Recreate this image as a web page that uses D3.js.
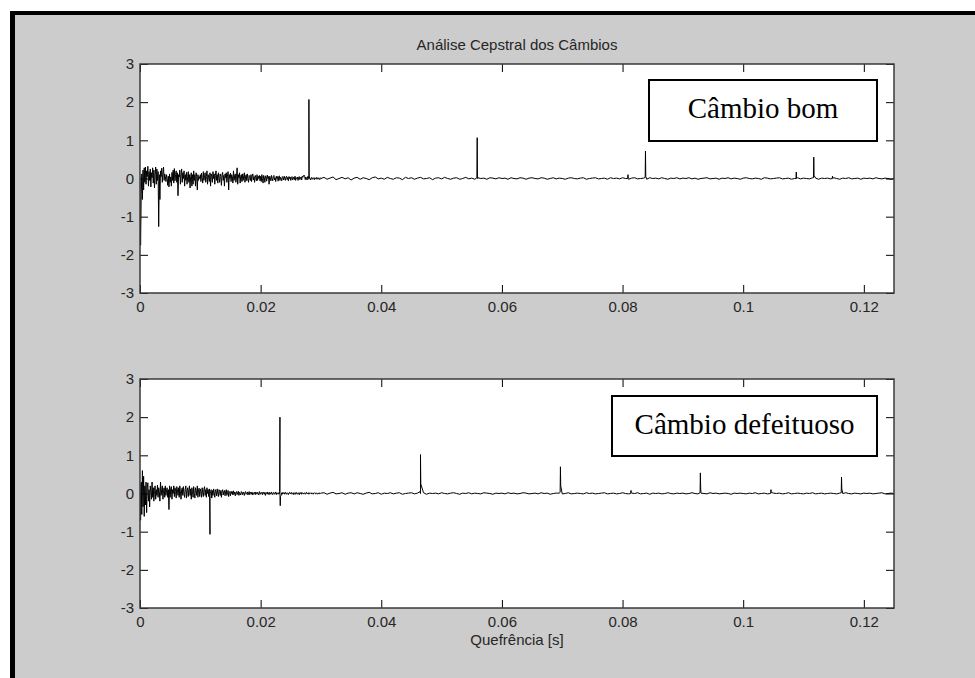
<!DOCTYPE html>
<html>
<head>
<meta charset="utf-8">
<script src="https://cdn.jsdelivr.net/npm/d3@7"></script>
<style>
  body { margin: 0; background: #fff; }
  svg { display: block; }
  .tick text { font-family: "Liberation Sans", Arial, sans-serif; font-size: 15px; fill: #262626; }
  .tick line { stroke: #000; }
</style>
</head>
<body>
<div id="chart"></div>
<script>
// --------------------------------------
//  Data
// --------------------------------------

const title = "Análise Cepstral dos Câmbios";
const xLabel = "Quefrência [s]";
const xTicks = [0, 0.02, 0.04, 0.06, 0.08, 0.1, 0.12];
const yTicks = [-3, -2, -1, 0, 1, 2, 3];
const legendTop = "Câmbio bom";
const legendBottom = "Câmbio defeituoso";

// dense part: one sample every 0.0001 s from 0 to 0.03
const headStep = 0.0001;
// flat part: one sample every 0.0005 s from 0.0305 to 0.125
const tailStart = 0.0305;
const tailStep = 0.0005;

const goodHead = [
  0.05,-1.75,-0.4,0.12,-0.55,0.22,-0.3,0.28,-0.1,0.3,
  -0.15,0.2,0.05,0.32,-0.2,0.18,-0.05,0.25,-0.22,0.15,
  0.02,0.28,-0.12,0.22,-0.25,0.1,0.3,-0.15,0.25,-0.05,
  0.18,-1.26,0.1,-0.55,0.2,0.05,0.27,-0.1,0.15,0.3,
  -0.05,0.12,0.05,-0.08,0.1,0.0,-0.18,0.06,-0.22,0.12,
  -0.1,0.04,-0.2,0.16,-0.05,0.22,-0.12,0.26,-0.06,0.1,
  0.2,-0.1,0.15,-0.45,0.1,0.04,0.22,-0.15,0.1,0.25,
  -0.1,0.15,0.0,0.2,-0.2,0.1,-0.05,0.16,-0.15,0.05,
  0.18,-0.1,0.1,-0.25,0.05,0.15,-0.2,0.1,-0.15,0.2,
  -0.05,0.1,-0.2,0.15,0.05,-0.3,0.1,-0.05,0.05,0.0,
  0.1,-0.08,0.14,0.02,-0.12,0.18,-0.05,0.08,0.15,-0.1,
  0.05,0.2,-0.15,0.1,0.02,-0.08,0.15,-0.2,0.12,0.05,
  -0.1,0.18,0.0,0.12,-0.15,0.08,0.2,-0.05,0.1,-0.12,
  0.15,0.02,-0.1,0.12,0.05,-0.18,0.1,0.16,-0.05,0.08,
  -0.2,0.12,0.02,0.15,-0.1,0.06,0.18,-0.3,0.1,0.0,
  0.14,-0.08,0.1,0.05,-0.12,0.2,-0.05,0.08,0.12,-0.1,
  0.05,0.28,-0.15,0.1,0.02,0.15,-0.12,0.06,0.1,-0.08,
  0.12,-0.05,0.08,0.15,-0.1,0.04,0.1,-0.06,0.12,0.0,
  -0.1,0.08,0.05,-0.05,0.1,-0.08,0.06,0.12,-0.04,0.05,
  -0.1,0.08,0.02,-0.06,0.1,-0.05,0.06,0.0,0.08,-0.06,
  0.06,-0.08,0.1,0.0,-0.12,0.08,0.03,-0.1,0.07,0.04,
  -0.07,0.09,0.0,0.05,-0.15,0.06,0.02,-0.06,0.08,0.0,
  -0.06,0.05,0.08,-0.04,0.02,-0.08,0.06,0.0,0.05,-0.07,
  0.04,0.07,-0.05,0.03,0.0,-0.06,0.05,0.03,-0.04,0.06,
  0.0,-0.05,0.04,0.06,-0.03,0.03,-0.06,0.05,0.0,0.04,
  -0.05,0.03,0.05,-0.04,0.0,0.04,-0.03,0.06,-0.05,0.02,
  0.0,0.04,-0.05,0.03,0.05,-0.03,0.0,0.04,-0.04,0.06,
  0.03,0.07,0.09,0.05,-0.03,0.04,0.0,-0.04,0.05,0.02,
  -0.02,0.03,0.0,-0.04,0.02,0.03,-0.02,0.0,0.02,-0.03,
  0.02,0.0,-0.02,0.03,0.01,-0.02,0.02,0.0,-0.03,0.02,0.0
];

const goodTail = [
  0.03,-0.02,0.01,0.04,-0.03,0.0,0.03,-0.01,0.02,-0.04,
  0.01,0.03,-0.02,0.02,0.0,-0.03,0.02,0.04,-0.01,0.01,
  -0.02,0.03,0.0,-0.02,0.02,0.01,-0.03,0.03,0.0,0.02,
  -0.02,0.01,0.03,-0.01,0.0,0.02,-0.03,0.01,0.02,-0.01,
  0.03,0.0,-0.02,0.01,0.02,-0.02,0.0,0.03,-0.01,0.01,
  -0.02,0.02,0.0,0.01,-0.02,0.02,0.01,-0.01,0.02,0.0,
  0.01,-0.02,0.02,0.0,-0.01,0.02,0.01,-0.02,0.01,0.02,
  0.0,-0.01,0.02,0.01,-0.02,0.0,0.02,-0.01,0.01,0.0,
  -0.02,0.01,0.02,0.0,-0.01,0.01,0.02,-0.02,0.0,0.01,
  0.02,-0.01,0.0,0.01,-0.02,0.02,0.0,0.01,-0.01,0.02,
  0.0,-0.02,0.01,0.02,-0.01,0.0,0.01,-0.02,0.02,0.0,
  0.01,-0.01,0.02,0.0,-0.02,0.01,0.0,0.02,-0.01,0.01,
  0.0,0.02,-0.01,0.01,-0.02,0.0,0.01,0.02,-0.01,0.0,
  0.01,-0.02,0.01,0.0,0.02,-0.01,0.01,0.0,-0.02,0.01,
  0.02,0.0,-0.01,0.01,0.0,-0.02,0.02,0.01,-0.01,0.0,
  0.01,0.02,-0.01,0.0,0.01,-0.02,0.0,0.02,-0.01,0.01,
  0.0,-0.01,0.02,0.01,-0.02,0.01,0.0,0.01,-0.01,0.02,
  0.0,-0.02,0.01,0.0,0.02,-0.01,0.0,0.01,-0.02,0.01,
  0.0,0.01,-0.01,0.02,0.0,-0.01,0.01,0.0,-0.02,0.0
];

// rahmonic peaks: quefrency, and [sample before, peak, sample after]
const goodPeakQ = [0.0280, 0.0559, 0.0809, 0.0838, 0.1088, 0.1117, 0.1148];
const goodPeakV = [
  [0.05, 2.07, 0.02], [0.02, 1.07, 0.0], [0.0, 0.1, 0.0], [0.03, 0.72, 0.05],
  [0.0, 0.17, 0.0], [0.02, 0.56, 0.08], [0.0, 0.06, 0.0]
];

const badHead = [
  0.25,-0.7,0.3,-0.55,0.6,-0.35,0.45,-0.6,0.2,-0.3,
  0.3,-0.5,0.15,0.28,-0.2,0.1,-0.35,0.2,0.05,-0.15,
  0.3,-0.1,0.15,-0.2,0.08,0.2,-0.15,0.1,-0.05,0.22,
  -0.1,0.15,0.05,-0.2,0.3,-0.05,0.1,0.2,-0.15,0.08,
  0.15,-0.1,0.2,-0.05,0.1,0.15,-0.1,0.1,-0.42,0.2,
  -0.1,0.12,0.18,-0.15,0.1,0.0,0.2,-0.08,0.15,0.05,
  -0.12,0.18,0.1,-0.05,0.15,-0.1,0.2,0.05,-0.15,0.1,
  0.15,-0.05,0.18,0.0,-0.1,0.12,0.2,-0.12,0.08,0.15,
  -0.08,0.1,0.2,-0.05,0.12,-0.15,0.15,0.05,-0.1,0.18,
  0.0,-0.12,0.15,0.08,-0.05,0.2,-0.1,0.1,0.14,-0.08,
  0.12,0.05,-0.1,0.15,0.02,-0.08,0.12,0.18,-0.05,0.1,
  -0.1,0.15,0.0,0.1,-0.08,0.12,-0.05,0.05,0.1,-0.12,
  0.08,-0.05,0.12,0.02,-0.1,0.1,0.05,-0.06,0.12,0.0,
  -0.08,0.1,0.05,-0.05,0.08,-0.1,0.06,0.1,-0.04,0.05,
  0.08,-0.06,0.04,0.1,-0.05,0.02,0.08,-0.08,0.05,0.03,
  -0.06,0.06,0.0,0.05,-0.04,0.07,-0.02,0.04,-0.06,0.03,
  0.05,-0.03,0.02,0.06,-0.05,0.03,0.0,-0.04,0.05,0.02,
  -0.03,0.04,0.0,-0.05,0.03,0.05,-0.02,0.0,0.04,-0.04,
  0.02,0.05,-0.03,0.01,0.04,-0.02,0.03,-0.04,0.02,0.0,
  0.03,-0.03,0.04,0.01,-0.02,0.03,0.0,-0.04,0.05,0.01,
  -0.02,0.03,0.0,-0.03,0.04,0.01,-0.02,0.03,-0.05,0.02,
  0.0,0.04,-0.02,0.02,-0.03,0.03,0.01,-0.02,0.04,0.0,
  -0.03,0.02,0.03,-0.02,0.0,0.04,-0.03,0.02,0.01,-0.02,
  0.02,0.0,-0.04,-0.08,-0.05,0.02,-0.02,0.03,0.0,0.02,
  -0.02,0.03,0.01,-0.02,0.02,0.0,-0.03,0.02,0.03,-0.01,
  0.01,0.03,-0.02,0.0,0.02,-0.03,0.01,0.02,-0.02,0.03,
  0.0,-0.02,0.02,0.01,-0.03,0.02,0.0,0.03,-0.02,0.01,
  0.02,-0.01,0.0,0.02,-0.02,0.01,0.03,-0.01,0.0,0.02,
  -0.02,0.01,0.02,0.0,-0.01,0.02,0.0,-0.02,0.01,0.02,
  0.0,-0.01,0.02,0.0,-0.02,0.01,0.0,0.02,-0.01,0.0,0.01
];

const badTail = [
  0.02,-0.02,0.01,0.03,-0.01,0.0,0.02,-0.02,0.01,0.02,
  -0.01,0.02,0.0,-0.02,0.01,0.03,-0.01,0.0,0.02,-0.02,
  0.01,0.0,0.02,-0.01,0.01,0.02,-0.02,0.0,0.01,0.02,
  -0.01,0.01,0.0,0.02,-0.02,0.01,0.0,0.01,-0.01,0.02,
  0.0,-0.01,0.01,0.02,0.0,-0.02,0.01,0.0,0.02,-0.01,
  0.01,0.0,-0.01,0.02,0.01,0.0,-0.02,0.01,0.0,0.01,
  -0.01,0.02,0.0,0.01,-0.01,0.0,0.02,0.01,-0.01,0.0,
  0.01,-0.01,0.02,0.0,0.01,-0.02,0.0,0.01,0.01,-0.01,
  0.0,0.02,-0.01,0.0,0.01,0.0,-0.01,0.02,0.0,0.01,
  -0.01,0.0,0.01,0.02,-0.01,0.0,0.01,-0.01,0.0,0.02,
  0.0,-0.01,0.01,0.0,0.02,-0.01,0.0,0.01,-0.02,0.01,
  0.0,0.01,-0.01,0.0,0.02,0.0,-0.01,0.01,0.0,0.01,
  -0.01,0.0,0.02,0.0,-0.01,0.01,0.0,-0.01,0.02,0.0,
  0.01,-0.01,0.0,0.01,0.0,-0.02,0.01,0.0,0.01,0.0,
  -0.01,0.01,0.0,0.02,-0.01,0.0,0.01,-0.01,0.0,0.01,
  0.0,0.01,-0.01,0.0,0.02,-0.01,0.0,0.01,0.0,-0.01,
  0.01,0.0,0.02,-0.01,0.0,0.01,-0.01,0.0,0.01,0.0,
  -0.01,0.01,0.0,0.02,0.0,-0.01,0.01,0.0,-0.01,0.01,
  0.0,0.01,-0.01,0.0,0.01,0.02,-0.01,0.0,0.01,0.0
];

const badPeakQ = [0.0116, 0.0232, 0.0465, 0.0697, 0.0814, 0.0929, 0.1046, 0.1163];
const badPeakV = [
  [0.05, -1.07, 0.0], [0.05, 2.0, -0.32], [0.05, 1.02, 0.25], [0.03, 0.7, 0.2],
  [0.0, 0.08, 0.02], [0.02, 0.54, 0.15], [0.0, 0.1, 0.03], [0.02, 0.43, 0.12]
];

// --------------------------------------
//  Canvas
// --------------------------------------

const width = 975;
const height = 678;
const plot = { left: 140, right: 894 };
const panels = [
  { top: 64, bottom: 293, head: goodHead, tail: goodTail, pq: goodPeakQ, pv: goodPeakV,
    legend: legendTop, box: [649, 80, 877, 141], textY: 118 },
  { top: 379, bottom: 608, head: badHead, tail: badTail, pq: badPeakQ, pv: badPeakV,
    legend: legendBottom, box: [612, 396, 877, 456], textY: 434 }
];

const svg = d3.select("#chart")
  .append("svg")
  .attr("width", width)
  .attr("height", height);

// black frame on the left and top, grey figure background
svg.append("rect").attr("x", 10).attr("y", 11).attr("width", width).attr("height", height).attr("fill", "#000");
svg.append("rect").attr("x", 15).attr("y", 15).attr("width", width).attr("height", height).attr("fill", "#cccccc");

const x = d3.scaleLinear([0, 0.125], [0, plot.right - plot.left]);

const buildSeries = (p) => {
  const pts = [];
  p.head.forEach((v, i) => pts.push({ q: i * headStep, v }));
  p.tail.forEach((v, i) => pts.push({ q: tailStart + i * tailStep, v }));
  p.pq.forEach((q, i) => {
    p.pv[i].forEach((v, j) => pts.push({ q: q + (j - 1) * headStep * 0.5, v }));
  });
  return pts.sort((a, b) => a.q - b.q);
};

panels.forEach((p, k) => {
  const h = p.bottom - p.top;
  const y = d3.scaleLinear([-3, 3], [h, 0]);

  const g = svg.append("g").attr("transform", `translate(${plot.left},${p.top})`);

  g.append("rect")
    .attr("width", x.range()[1])
    .attr("height", h)
    .attr("fill", "#fff");

  g.append("clipPath").attr("id", `clip${k}`)
    .append("rect").attr("width", x.range()[1]).attr("height", h);

  // axes with inward ticks on all four sides
  g.append("g").attr("transform", `translate(0,${h})`)
    .call(d3.axisBottom(x).tickValues(xTicks).tickSize(-8).tickPadding(8)
      .tickFormat(d => String(+d.toFixed(2))))
    .call(s => s.select(".domain").remove());

  g.append("g")
    .call(d3.axisTop(x).tickValues(xTicks).tickSize(-8).tickFormat(() => ""))
    .call(s => s.select(".domain").remove());

  g.append("g")
    .call(d3.axisLeft(y).tickValues(yTicks).tickSize(-8).tickPadding(6)
      .tickFormat(d => String(d)))
    .call(s => s.select(".domain").remove());

  g.append("g").attr("transform", `translate(${x.range()[1]},0)`)
    .call(d3.axisRight(y).tickValues(yTicks).tickSize(-8).tickFormat(() => ""))
    .call(s => s.select(".domain").remove());

  // the cepstrum
  const line = d3.line().x(d => x(d.q)).y(d => y(d.v));
  g.append("path")
    .datum(buildSeries(p))
    .attr("clip-path", `url(#clip${k})`)
    .attr("fill", "none")
    .attr("stroke", "#000")
    .attr("stroke-width", 1)
    .attr("d", line);

  g.append("rect")
    .attr("width", x.range()[1])
    .attr("height", h)
    .attr("fill", "none")
    .attr("stroke", "#3a3a3a")
    .attr("stroke-width", 1.5);

  // text box annotation
  const [bx0, by0, bx1, by1] = p.box;
  svg.append("rect")
    .attr("x", bx0).attr("y", by0)
    .attr("width", bx1 - bx0).attr("height", by1 - by0)
    .attr("fill", "#fff")
    .attr("stroke", "#000")
    .attr("stroke-width", 2);

  svg.append("text")
    .attr("x", (bx0 + bx1) / 2)
    .attr("y", p.textY)
    .attr("text-anchor", "middle")
    .style("font-family", "'Liberation Serif', 'Times New Roman', serif")
    .style("font-size", "29px")
    .attr("fill", "#000")
    .text(p.legend);
});

svg.append("text")
  .attr("x", (plot.left + plot.right) / 2)
  .attr("y", 50)
  .attr("text-anchor", "middle")
  .style("font-family", "'Liberation Sans', Arial, sans-serif")
  .style("font-size", "15px")
  .attr("fill", "#262626")
  .text(title);

svg.append("text")
  .attr("x", (plot.left + plot.right) / 2)
  .attr("y", 645)
  .attr("text-anchor", "middle")
  .style("font-family", "'Liberation Sans', Arial, sans-serif")
  .style("font-size", "15px")
  .attr("fill", "#262626")
  .text(xLabel);
</script>
</body>
</html>
